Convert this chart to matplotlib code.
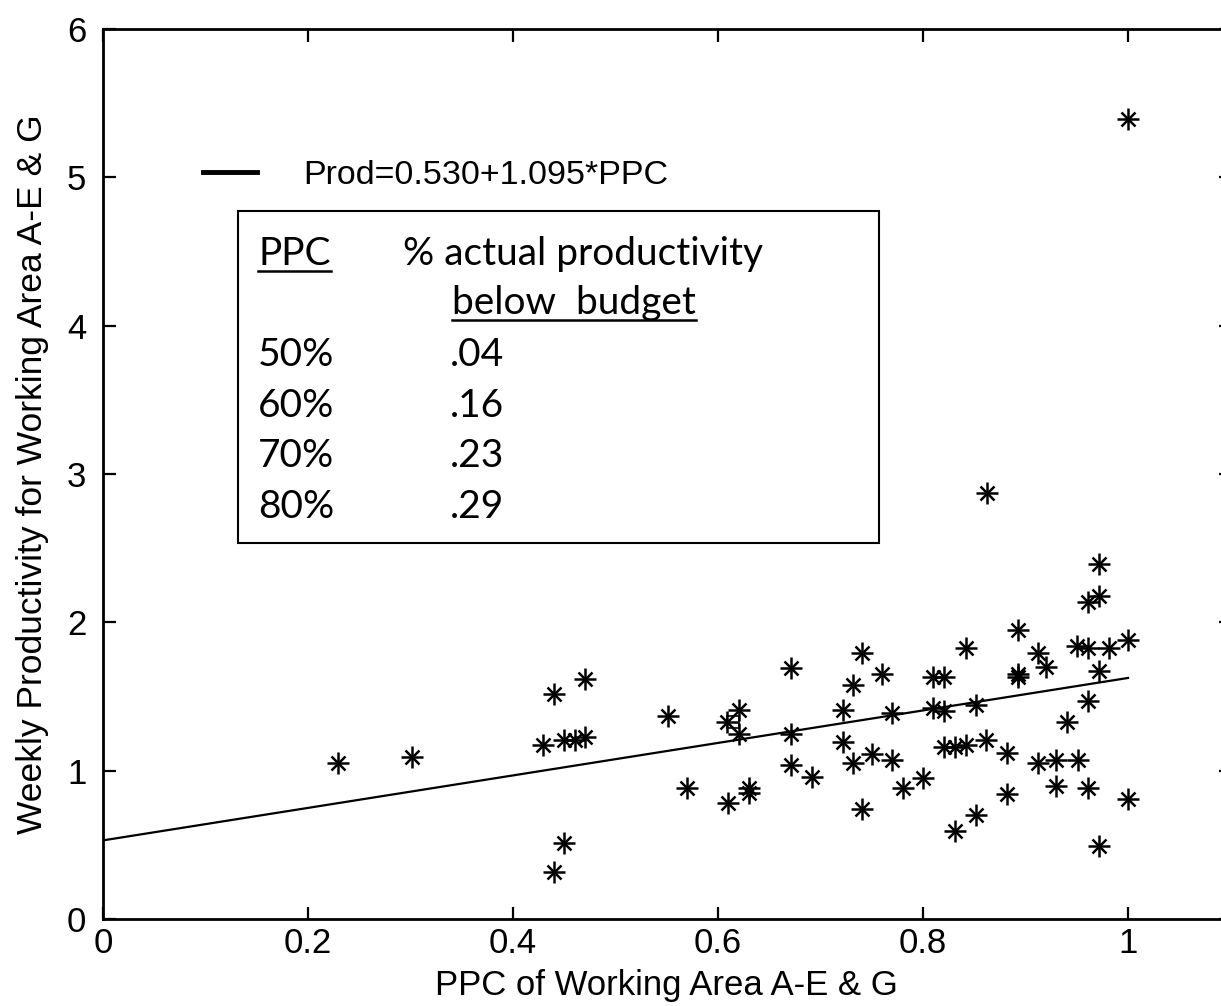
import matplotlib
matplotlib.use('Agg')
import matplotlib.pyplot as plt
from matplotlib.lines import Line2D
from matplotlib.patches import Rectangle

# ---------------- data ----------------
ppc = [0.229, 0.301, 0.429, 0.440, 0.450, 0.460, 0.470, 0.470, 0.440, 0.450,
       0.551, 0.570, 0.609, 0.620, 0.620, 0.610, 0.630, 0.630, 0.671, 0.671,
       0.671, 0.692, 0.740, 0.732, 0.760, 0.722, 0.770, 0.722, 0.732, 0.750,
       0.770, 0.780, 0.800, 0.740, 0.810, 0.820, 0.810, 0.820, 0.820, 0.972,
       0.972, 0.961, 0.893, 0.842, 0.950, 0.961, 0.981, 1.000, 0.912, 0.920,
       0.893, 0.893, 0.972, 0.961, 0.940, 0.852, 0.831, 0.842, 0.861, 0.882,
       0.912, 0.930, 0.951, 0.882, 0.930, 0.961, 1.000, 0.852, 0.831, 0.972,
       1.000, 0.862]
prod = [1.05, 1.09, 1.17, 1.52, 1.21, 1.21, 1.23, 1.62, 0.32, 0.51,
        1.37, 0.88, 1.33, 1.41, 1.25, 0.78, 0.88, 0.85, 1.69, 1.25,
        1.04, 0.96, 1.79, 1.58, 1.65, 1.41, 1.39, 1.19, 1.05, 1.11,
        1.07, 0.88, 0.95, 0.74, 1.63, 1.63, 1.42, 1.40, 1.16, 2.39,
        2.18, 2.14, 1.95, 1.83, 1.84, 1.83, 1.83, 1.88, 1.79, 1.70,
        1.65, 1.63, 1.67, 1.47, 1.33, 1.44, 1.16, 1.17, 1.21, 1.12,
        1.05, 1.07, 1.07, 0.84, 0.90, 0.88, 0.81, 0.70, 0.59, 0.49,
        5.39, 2.87]
highlight_ppc = [0.615]
highlight_prod = [1.33]

intercept = 0.530
slope = 1.095
fit_range = [0.0, 1.0]
fit_label = 'Prod=0.530+1.095*PPC'

xticks = [0, 0.2, 0.4, 0.6, 0.8, 1.0]
xticklabels = ['0', '0.2', '0.4', '0.6', '0.8', '1']
yticks = [0, 1, 2, 3, 4, 5, 6]
yticklabels = ['0', '1', '2', '3', '4', '5', '6']

table_header = ['PPC', '% actual productivity']
table_header2 = 'below  budget'
table_ppc = ['50%', '60%', '70%', '80%']
table_below = ['.04', '.16', '.23', '.29']

xlabel = 'PPC of Working Area A-E & G'
ylabel = 'Weekly Productivity for Working Area A-E & G'

# ---------------- figure ----------------
plt.rcParams['font.family'] = ['Liberation Sans', 'DejaVu Sans']
W, H = 1221, 1006
fig = plt.figure(figsize=(W / 100, H / 100), dpi=100)
ax = fig.add_axes([103 / W, 87 / H, 1127.5 / W, 890 / H])

ax.plot(ppc, prod, linestyle='none', marker='+', ms=16, mew=1.8, color='k')
ax.plot(ppc, prod, linestyle='none', marker='x', ms=10, mew=1.8, color='k')
ax.plot(highlight_ppc, highlight_prod, linestyle='none', marker='s', ms=8,
        mfc='none', mec='k', mew=1.2)

fit_y = [intercept + slope * v for v in fit_range]
ax.plot(fit_range, fit_y, color='k', lw=1.6)

ax.set_xlim(0, 1.1)
ax.set_ylim(0, 6)
ax.set_xticks(xticks)
ax.set_xticklabels(xticklabels)
ax.set_yticks(yticks)
ax.set_yticklabels(yticklabels)
ax.tick_params(direction='in', length=9, width=1.6, top=True, right=True,
               labelsize=25, pad=6)
ax.tick_params(axis='y', pad=12)
for s in ax.spines.values():
    s.set_linewidth(2.0)

ax.set_xlabel(xlabel, fontsize=25, labelpad=6)
ax.set_ylabel(ylabel, fontsize=25.5, labelpad=13)

# legend
handle = Line2D([], [], color='k', lw=3.5)
ax.legend([handle], [fit_label], loc='center left',
          bbox_to_anchor=((203 - 103) / 1127.5, (919 - 175) / 890),
          frameon=False, handlelength=1.6, handletextpad=1.35,
          fontsize=24.5, borderpad=0, borderaxespad=0)

# table box
bx0, bx1 = (238 - 103) / 1127.5, (879 - 103) / 1127.5
by0, by1 = (919 - 543) / 890, (919 - 211) / 890
ax.add_patch(Rectangle((bx0, by0), bx1 - bx0, by1 - by0, transform=ax.transAxes,
                       fill=False, lw=1.5, edgecolor='k', zorder=5))

tfont = dict(family=['Lato', 'DejaVu Sans'], fontsize=28, va='baseline',
             transform=ax.transAxes, zorder=6)
col1 = (258 - 103) / 1127.5
col2 = (403 - 103) / 1127.5
col2b = (452 - 103) / 1127.5
col3 = (450 - 103) / 1127.5
base = [(919 - yy) / 890 for yy in (265, 314, 366, 417, 467, 518)]

t_ppc = ax.text(col1, base[0], table_header[0], **tfont)
ax.text(col2, base[0], table_header[1], **tfont)
t_below = ax.text(col2b, base[1], table_header2, **tfont)
for i, (p, b) in enumerate(zip(table_ppc, table_below)):
    ax.text(col1, base[2 + i], p, **tfont)
    ax.text(col3, base[2 + i], b, **tfont)

# underlines
fig.canvas.draw()
renderer = fig.canvas.get_renderer()
inv = ax.transAxes.inverted()
for t, b in ((t_ppc, base[0]), (t_below, base[1])):
    ext = t.get_window_extent(renderer)
    x0 = inv.transform((ext.x0, 0))[0]
    x1 = inv.transform((ext.x1, 0))[0]
    yb = b - 6 / 890
    ax.add_line(Line2D([x0, x1], [yb, yb], transform=ax.transAxes, color='k',
                       lw=1.8, zorder=6))

fig.savefig('out.png', dpi=100)
